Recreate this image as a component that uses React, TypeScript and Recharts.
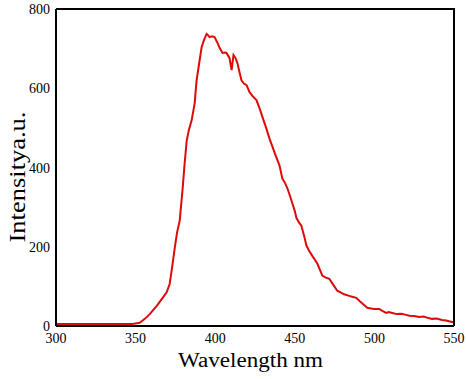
import React from "react";
import { LineChart, Line, XAxis, YAxis, Label } from "recharts";

// wavelength (nm) and intensity (a.u.)
const wavelength = [
  300, 310, 320, 330, 340, 348, 352.6, 355.8, 358.9, 361, 363.3, 365, 367, 369.5,
  371.4, 373, 374.6, 376, 377.7, 379.6, 380.8, 382.1, 383.5, 385.2, 387.1, 388.3,
  390, 391.5, 393, 394.6, 395.5, 396.5, 398, 399.6, 401.5, 403, 404.6, 406, 407.1,
  408, 409, 410.3, 411.5, 412.8, 414, 415, 416.5, 418, 419.7, 421.6, 423.5, 425.9,
  428, 429.7, 432, 434.1, 436, 438, 440.4, 442.2, 444, 445.4, 447, 448.5, 450,
  451, 452.5, 454.1, 456, 457.3, 459, 461, 462.5, 464.2, 466, 467.3, 469.5, 471.7,
  474, 476.7, 479, 481, 484.2, 486, 488.6, 491, 493, 495.5, 498, 500, 503, 505,
  507.4, 509, 511.2, 514, 517, 519.9, 522, 525, 528.1, 531, 534, 536.2, 539,
  542.5, 545, 548.7, 550,
];
const intensity = [
  5, 5, 5, 5, 5, 5, 8, 18, 30, 40, 51, 60, 71, 85,
  106, 150, 197, 235, 266, 349, 410, 468, 495, 519, 562, 620,
  665, 704, 722, 737, 734, 729, 731, 729, 714, 700, 689, 690, 689,
  683, 676, 646, 684, 676, 663, 645, 620, 612, 608, 590, 580, 570,
  548, 527, 500, 473, 452, 430, 405, 372, 360, 347, 328, 309, 290,
  273, 262, 253, 225, 203, 190, 177, 168, 157, 140, 127, 122, 119,
  105, 89, 84, 80, 76, 74, 71, 62, 55, 46, 44, 43, 43, 38,
  33, 35, 33, 30, 31, 28, 26, 25, 23, 24, 20, 18, 19,
  15, 14, 10, 10,
];
const xTicks = [300, 350, 400, 450, 500, 550];
const yTicks = [0, 200, 400, 600, 800];

const data = wavelength.map((w, i) => ({ w, v: intensity[i] }));

const W = 466;
const H = 379;
const MARGIN = { top: 9, right: 12, left: 0, bottom: 0 };
const Y_AXIS_W = 56;
const X_AXIS_H = 53;

const serif = '"Liberation Serif", "Times New Roman", serif';

function XTick(props: any) {
  const { x, y, payload } = props;
  return (
    <text x={x} y={y + 11} textAnchor="middle" fontSize={14} fill="#000" style={{ fontFamily: serif }}>
      {payload.value}
    </text>
  );
}

function YTick(props: any) {
  const { x, y, payload } = props;
  return (
    <text x={x} y={y + 5} textAnchor="end" fontSize={14} fill="#000" style={{ fontFamily: serif }}>
      {payload.value}
    </text>
  );
}

// x title plus the top/right edges of the plot box
function XTitle(props: any) {
  const vb = props.viewBox || {};
  const left = vb.x ?? MARGIN.left + Y_AXIS_W;
  const right = vb.width != null ? left + vb.width : W - MARGIN.right;
  const bottom = vb.y ?? H - X_AXIS_H;
  const top = MARGIN.top;
  return (
    <g>
      <path
        d={`M${left},${top}H${right}V${bottom}`}
        fill="none"
        stroke="#000"
        strokeWidth={2}
      />
      <text
        x={250.5}
        y={367}
        textAnchor="middle"
        fontFamily={serif}
        fontSize={20}
        textLength={145}
        lengthAdjust="spacingAndGlyphs"
        fill="#000"
      >
        Wavelength  nm
      </text>
    </g>
  );
}

export default function App() {
  return (
    <div style={{ position: "absolute", left: 0, top: 0, background: "#fff" }}>
      <LineChart width={W} height={H} data={data} margin={MARGIN}>
        <XAxis
          dataKey="w"
          type="number"
          domain={[300, 550]}
          ticks={xTicks}
          height={X_AXIS_H}
          tickSize={3}
          tickMargin={3}
          tick={<XTick />}
          tickLine={false}
          axisLine={{ stroke: "#000", strokeWidth: 2 }}
        >
          <Label content={(p: any) => <XTitle {...p} />} />
        </XAxis>
        <YAxis
          domain={[0, 800]}
          ticks={yTicks}
          width={Y_AXIS_W}
          tickSize={3}
          tickMargin={3}
          tick={<YTick />}
          tickLine={false}
          axisLine={{ stroke: "#000", strokeWidth: 2 }}
        >
          <Label
            content={() => (
              <text
                transform="translate(25,177) rotate(-90)"
                textAnchor="middle"
                fontFamily={serif}
                fontSize={24}
                textLength={131}
                lengthAdjust="spacingAndGlyphs"
                fill="#000"
              >
                Intensitya.u.
              </text>
            )}
          />
        </YAxis>
        <Line
          dataKey="v"
          type="linear"
          stroke="#dd0a0a"
          strokeWidth={2}
          dot={false}
          isAnimationActive={false}
        />
      </LineChart>
    </div>
  );
}
